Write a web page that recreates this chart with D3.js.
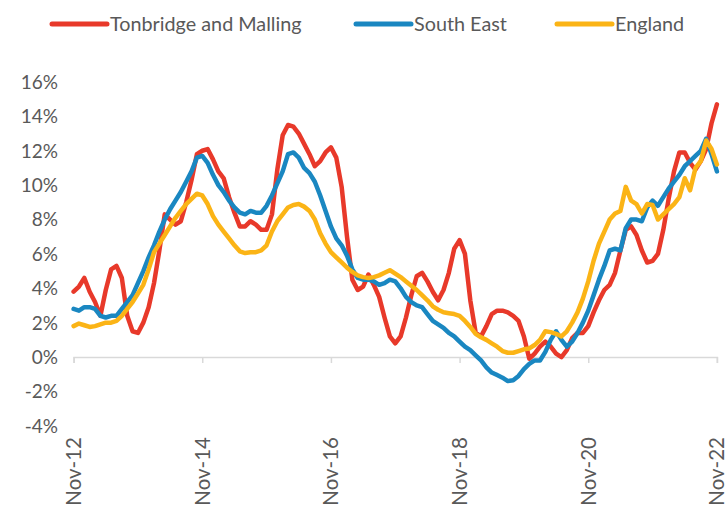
<!DOCTYPE html>
<html>
<head>
<meta charset="utf-8">
<script src="https://cdn.jsdelivr.net/npm/d3@7"></script>
<style>
  body { margin: 0; background: #fff; }
  text { font-family: Lato, "Open Sans", sans-serif; fill: #595959; }
</style>
</head>
<body>
<div id="chart"></div>
<script>
// monthly % change, Nov-12 .. Nov-22
var months = d3.range(121);
var tickMonths = [0, 24, 48, 72, 96, 120];
var tickLabels = ['Nov-12', 'Nov-14', 'Nov-16', 'Nov-18', 'Nov-20', 'Nov-22'];
var yTicks = [-4, -2, 0, 2, 4, 6, 8, 10, 12, 14, 16];
var seriesNames = ['Tonbridge and Malling', 'South East', 'England'];

var tonbridge = [3.8, 4.1, 4.6, 3.8, 3.2, 2.4, 3.9, 5.1, 5.3, 4.6,
    2.4, 1.5, 1.4, 2.0, 2.9, 4.3, 6.2, 8.3, 8.0, 7.7,
    7.9, 9.0, 10.3, 11.8, 12.0, 12.1, 11.5, 10.8, 10.4, 9.3,
    8.4, 7.6, 7.6, 7.9, 7.7, 7.4, 7.4, 8.3, 10.9, 12.9,
    13.5, 13.4, 13.0, 12.4, 11.8, 11.1, 11.4, 11.9, 12.2, 11.6,
    9.9, 7.0, 4.5, 3.9, 4.1, 4.8, 4.2, 3.5, 2.3, 1.2,
    0.8, 1.2, 2.3, 3.6, 4.7, 4.9, 4.4, 3.8, 3.3, 3.9,
    4.9, 6.3, 6.8, 6.0, 3.3, 1.4, 1.2, 1.8, 2.5, 2.7,
    2.7, 2.6, 2.4, 2.1, 1.2, -0.1, 0.2, 0.6, 0.9, 0.6,
    0.2, 0.0, 0.4, 1.1, 1.4, 1.4, 1.8, 2.6, 3.3, 3.9,
    4.2, 4.9, 6.2, 7.4, 7.6, 7.1, 6.2, 5.5, 5.6, 6.0,
    7.4, 9.2, 10.8, 11.9, 11.9, 11.3, 10.9, 11.4, 12.1, 13.6,
    14.7];

var southEast = [2.8, 2.7, 2.9, 2.9, 2.8, 2.4, 2.3, 2.4, 2.4, 2.8,
    3.2, 3.6, 4.3, 5.0, 5.8, 6.5, 7.3, 8.0, 8.6, 9.1,
    9.6, 10.2, 10.8, 11.6, 11.7, 11.3, 10.6, 10.0, 9.6, 9.1,
    8.7, 8.4, 8.3, 8.5, 8.4, 8.4, 8.8, 9.4, 10.1, 10.8,
    11.8, 11.9, 11.6, 11.0, 10.7, 10.2, 9.4, 8.5, 7.6, 6.9,
    6.5, 5.9, 5.1, 4.6, 4.5, 4.5, 4.4, 4.2, 4.3, 4.5,
    4.4, 4.0, 3.5, 3.2, 3.0, 2.9, 2.5, 2.1, 1.9, 1.7,
    1.4, 1.2, 0.9, 0.6, 0.4, 0.1, -0.2, -0.6, -0.9, -1.05,
    -1.2, -1.4, -1.35, -1.1, -0.7, -0.4, -0.2, -0.2, 0.3, 1.0,
    1.5, 1.0, 0.6, 0.9, 1.4, 2.0, 2.7, 3.6, 4.5, 5.3,
    6.2, 6.3, 6.2, 7.5, 8.0, 8.0, 7.9, 8.7, 9.1, 8.8,
    9.3, 9.8, 10.2, 10.6, 11.1, 11.4, 11.7, 12.0, 12.7, 11.8,
    10.8];

var england = [1.8, 1.95, 1.85, 1.75, 1.8, 1.9, 2.0, 2.0, 2.1, 2.4,
    2.8, 3.2, 3.7, 4.2, 5.1, 6.1, 6.6, 7.1, 7.6, 8.1,
    8.5, 8.9, 9.2, 9.5, 9.4, 8.9, 8.2, 7.7, 7.3, 6.9,
    6.5, 6.15, 6.05, 6.1, 6.1, 6.2, 6.5, 7.3, 7.9, 8.3,
    8.7, 8.85, 8.9, 8.75, 8.5, 8.0, 7.2, 6.6, 6.1, 5.8,
    5.5, 5.2, 4.95, 4.75, 4.65, 4.6, 4.65, 4.75, 4.9, 5.05,
    4.85, 4.65, 4.4, 4.15, 3.9, 3.6, 3.3, 2.95, 2.75, 2.6,
    2.55, 2.5, 2.4, 2.1, 1.75, 1.35, 1.15, 1.0, 0.8, 0.6,
    0.35, 0.25, 0.25, 0.35, 0.45, 0.5, 0.7, 1.0, 1.5, 1.45,
    1.35, 1.2, 1.5, 2.0, 2.6, 3.4, 4.4, 5.6, 6.6, 7.3,
    8.0, 8.35, 8.5, 9.9, 9.1, 8.9, 8.35, 8.9, 8.85, 8.0,
    8.3, 8.6, 8.9, 9.3, 10.4, 9.7, 11.0, 11.4, 12.6, 12.1,
    11.2];

var colors = ['#e8392a', '#1a87c1', '#fbb416'];

var width = 726, height = 510;
var svg = d3.select('#chart').append('svg')
    .attr('width', width)
    .attr('height', height);

var x = d3.scaleLinear().domain([0, 120]).range([73.6, 716.9]);
var y = d3.scaleLinear().domain([-4, 16]).range([425.8, 82]);

// y labels (no axis line)
svg.append('g')
    .selectAll('text')
    .data(yTicks)
    .enter().append('text')
    .attr('x', 58)
    .attr('y', function(d) { return y(d); })
    .attr('dy', '0.36em')
    .attr('text-anchor', 'end')
    .style('font-size', '19px')
    .text(function(d) { return d + '%'; });

// x axis on the zero line
var xAxis = d3.axisBottom(x).tickValues(tickMonths).tickSize(6).tickFormat('');
var gx = svg.append('g')
    .attr('transform', 'translate(0,' + y(0) + ')')
    .call(xAxis);
gx.select('.domain').attr('stroke', '#d9d9d9').attr('stroke-width', 1.5);
gx.selectAll('.tick line').attr('stroke', '#d9d9d9').attr('stroke-width', 1.5);

// x labels, rotated, below plot area
svg.append('g')
    .selectAll('text')
    .data(tickMonths)
    .enter().append('text')
    .attr('transform', function(d) { return 'translate(' + (x(d) + 7.5) + ',437) rotate(-90)'; })
    .attr('text-anchor', 'end')
    .style('font-size', '20.5px')
    .text(function(d, i) { return tickLabels[i]; });

var line = d3.line()
    .x(function(d, i) { return x(months[i]); })
    .y(function(d) { return y(d); });

[tonbridge, southEast, england].forEach(function(s, k) {
    svg.append('path')
        .attr('d', line(s))
        .style('fill', 'none')
        .style('stroke', colors[k])
        .style('stroke-width', 4.5)
        .style('stroke-linejoin', 'round')
        .style('stroke-linecap', 'round');
});

// legend
var legendX = [52, 356, 557];
var legend = svg.append('g');
seriesNames.forEach(function(name, k) {
    legend.append('line')
        .attr('x1', legendX[k]).attr('x2', legendX[k] + 55)
        .attr('y1', 24).attr('y2', 24)
        .style('stroke', colors[k])
        .style('stroke-width', 5)
        .style('stroke-linecap', 'round');
    legend.append('text')
        .attr('x', legendX[k] + 58)
        .attr('y', 24)
        .attr('dy', '0.36em')
        .style('font-size', '19.8px')
        .text(name);
});
</script>
</body>
</html>
